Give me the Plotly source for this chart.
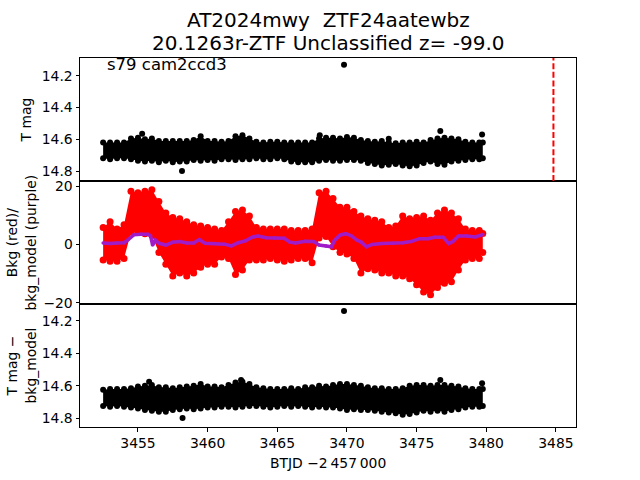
import plotly.graph_objects as go
from plotly.subplots import make_subplots

# ---- data ----
t = [3452.5, 3453.0, 3453.5, 3454.0, 3454.5, 3455.0, 3455.5, 3456.0, 3456.5, 3457.0,
     3457.5, 3458.0, 3458.5, 3459.0, 3459.5, 3460.0, 3460.5, 3461.0, 3461.5, 3462.0,
     3462.5, 3463.0, 3463.5, 3464.0, 3464.5, 3465.0, 3465.5, 3466.0, 3466.5, 3467.0,
     3467.5, 3468.0, 3468.5, 3469.0, 3469.5, 3470.0, 3470.5, 3471.0, 3471.5, 3472.0,
     3472.5, 3473.0, 3473.5, 3474.0, 3474.5, 3475.0, 3475.5, 3476.0, 3476.5, 3477.0,
     3477.5, 3478.0, 3478.5, 3479.0, 3479.5, 3479.75]

# T mag: brightest / faintest points of the dense cloud
tmag_hi = [14.62, 14.62, 14.62, 14.62, 14.595, 14.59, 14.60, 14.595, 14.61, 14.61,
           14.61, 14.61, 14.61, 14.605, 14.58, 14.61, 14.61, 14.615, 14.61, 14.58,
           14.575, 14.595, 14.615, 14.62, 14.615, 14.615, 14.62, 14.62, 14.62, 14.62,
           14.62, 14.595, 14.59, 14.59, 14.595, 14.585, 14.59, 14.605, 14.61, 14.615,
           14.61, 14.62, 14.625, 14.62, 14.62, 14.615, 14.62, 14.605, 14.595, 14.59,
           14.595, 14.60, 14.615, 14.62, 14.62, 14.62]
tmag_lo = [14.72, 14.725, 14.72, 14.72, 14.725, 14.735, 14.74, 14.735, 14.745, 14.735,
           14.745, 14.74, 14.74, 14.73, 14.735, 14.73, 14.735, 14.725, 14.725, 14.73,
           14.725, 14.725, 14.72, 14.725, 14.725, 14.72, 14.725, 14.74, 14.745, 14.745,
           14.745, 14.735, 14.73, 14.735, 14.735, 14.73, 14.73, 14.735, 14.75, 14.755,
           14.765, 14.76, 14.755, 14.765, 14.77, 14.765, 14.75, 14.74, 14.755, 14.76,
           14.74, 14.735, 14.73, 14.725, 14.725, 14.72]
tmag_out_t = [3469.79, 3458.16, 3476.7, 3479.7, 3468.05, 3473.0, 3455.3]
tmag_out_v = [14.129, 14.80, 14.548, 14.57, 14.575, 14.597, 14.565]

# Background (red)
bkg_hi = [5.8, 7.8, 5.3, 6.8, 18.3, 17.8, 18.3, 18.8, 14.8, 10.8,
          9.3, 8.8, 7.8, 6.8, 6.3, 5.8, 5.3, 4.8, 7.8, 11.3,
          11.8, 9.8, 5.8, 5.3, 5.3, 5.3, 5.3, 4.8, 4.8, 4.8,
          5.3, 17.8, 18.3, 15.8, 12.8, 12.8, 11.3, 9.8, 8.8, 8.3,
          7.8, 5.8, 6.3, 9.8, 8.8, 9.3, 9.8, 8.3, 10.8, 11.8,
          10.8, 8.8, 5.3, 4.8, 4.8, 3.8]
bkg_lo = [-5.3, -5.8, -5.8, -4.8, 4.2, 4.2, 3.7, 3.2, -2.8, -6.8,
          -10.8, -9.8, -10.8, -9.8, -7.8, -6.8, -6.8, -4.3, -4.8, -10.3,
          -8.8, -5.3, -5.3, -5.3, -4.8, -5.3, -5.8, -5.3, -4.8, -4.8,
          -6.3, 2.2, 2.7, -0.8, -2.8, -3.3, -4.8, -9.8, -8.3, -8.8,
          -9.8, -9.8, -10.8, -10.8, -11.8, -13.8, -16.3, -17.3, -14.8, -13.3,
          -12.8, -8.8, -5.3, -4.8, -4.8, -2.8]

# Background model (purple)
model_t = [3452.5, 3453.0, 3453.5, 3454.0, 3454.3, 3454.7, 3455.2, 3455.7, 3455.9, 3456.05,
           3456.25, 3456.5, 3457.0, 3457.5, 3458.0, 3458.5, 3459.0, 3459.4, 3459.8, 3460.5,
           3461.2, 3461.7, 3462.2, 3462.7, 3463.2, 3463.6, 3464.2, 3464.8, 3465.5, 3465.9,
           3466.3, 3467.0, 3467.6, 3468.0, 3468.5, 3468.9, 3469.1, 3469.5, 3469.9, 3470.3,
           3470.7, 3471.0, 3471.4, 3471.8, 3472.5, 3473.3, 3474.0, 3474.6, 3475.2, 3475.8,
           3476.3, 3476.9, 3477.3, 3477.6, 3478.0, 3478.6, 3479.2, 3479.75]
model_v = [0.5, 0.3, 0.5, 0.6, 1.7, 3.3, 3.5, 3.5, 3.0, -0.2,
           1.5, 0.4, -0.2, 0.8, 1.0, 0.5, 0.5, 1.7, 0.4, 0.3,
           0.1, -0.5, 0.6, 1.2, 2.5, 2.9, 2.3, 2.2, 2.1, 0.8,
           0.5, 1.1, 1.0, -0.2, -0.5, -0.8, 1.4, 3.2, 3.7, 3.0,
           1.5, 0.9, -0.8, 0.0, 0.3, 0.3, 0.6, 1.0, 2.0, 2.0,
           2.5, 2.5, 0.3, 1.0, 2.9, 2.9, 2.6, 3.4]

# T mag - bkg_model
corr_hi = [14.625, 14.62, 14.62, 14.62, 14.615, 14.605, 14.60, 14.595, 14.61, 14.61,
           14.615, 14.61, 14.605, 14.60, 14.59, 14.605, 14.605, 14.61, 14.595, 14.58,
           14.575, 14.59, 14.61, 14.615, 14.62, 14.62, 14.62, 14.615, 14.62, 14.61,
           14.61, 14.60, 14.605, 14.595, 14.59, 14.59, 14.595, 14.60, 14.61, 14.615,
           14.615, 14.62, 14.62, 14.615, 14.60, 14.595, 14.595, 14.60, 14.595, 14.595,
           14.60, 14.605, 14.615, 14.62, 14.62, 14.62]
corr_lo = [14.725, 14.73, 14.725, 14.73, 14.735, 14.74, 14.75, 14.755, 14.76, 14.76,
           14.75, 14.745, 14.74, 14.745, 14.74, 14.735, 14.735, 14.73, 14.73, 14.735,
           14.73, 14.725, 14.725, 14.73, 14.735, 14.73, 14.725, 14.73, 14.725, 14.73,
           14.735, 14.73, 14.735, 14.735, 14.74, 14.75, 14.745, 14.75, 14.75, 14.755,
           14.76, 14.765, 14.77, 14.78, 14.775, 14.765, 14.755, 14.76, 14.755, 14.76,
           14.75, 14.745, 14.735, 14.73, 14.73, 14.725]
corr_out_t = [3469.79, 3458.2, 3476.7, 3479.7, 3455.8, 3462.4]
corr_out_v = [14.138, 14.80, 14.565, 14.585, 14.575, 14.565]

discovery_t = 3484.82

title1 = "AT2024mwy  ZTF24aatewbz"
title2 = "20.1263r-ZTF Unclassified z= -99.0"
label_sector = "s79 cam2ccd3"
ylab1 = "T mag"
ylab2 = "Bkg (red)/<br>bkg_model (purple)"
ylab3 = "T mag \u2212<br>bkg_model"
xlab = "BTJD \u22122\u2009457\u2009000"

x_ticks = [3455, 3460, 3465, 3470, 3475, 3480, 3485]
mag_ticks = [14.2, 14.4, 14.6, 14.8]
bkg_ticks = [-20, 0, 20]

# ---- figure ----
FONT = "DejaVu Sans"
PURPLE = "#a01cc8"
fig = make_subplots(rows=3, cols=1, shared_xaxes=True, vertical_spacing=0)


def cloud(row, lo, hi, color, msize):
    fig.add_trace(go.Scatter(x=t + t[::-1], y=hi + lo[::-1], fill="toself",
                             fillcolor=color, mode="lines",
                             line=dict(width=0, color=color),
                             showlegend=False, hoverinfo="skip"), row=row, col=1)
    fig.add_trace(go.Scatter(x=t + t, y=hi + lo, mode="markers",
                             marker=dict(size=msize, color=color, line=dict(width=0)),
                             showlegend=False), row=row, col=1)


cloud(1, tmag_lo, tmag_hi, "black", 6)
fig.add_trace(go.Scatter(x=tmag_out_t, y=tmag_out_v, mode="markers",
                         marker=dict(size=6, color="black"), showlegend=False), row=1, col=1)

cloud(2, bkg_lo, bkg_hi, "#ff0000", 7)
fig.add_trace(go.Scatter(x=model_t, y=model_v, mode="lines+markers",
                         line=dict(color=PURPLE, width=3.5),
                         marker=dict(size=3.5, color=PURPLE),
                         showlegend=False), row=2, col=1)

cloud(3, corr_lo, corr_hi, "black", 6)
fig.add_trace(go.Scatter(x=corr_out_t, y=corr_out_v, mode="markers",
                         marker=dict(size=6, color="black"), showlegend=False), row=3, col=1)

fig.add_shape(type="line", xref="x", yref="y domain", x0=discovery_t, x1=discovery_t,
              y0=0, y1=1, line=dict(color="#ff0000", width=2, dash="6px,2.6px"))

axis_common = dict(showline=True, mirror=True, linecolor="black", linewidth=1,
                   showgrid=False, zeroline=False, ticks="outside", ticklen=3.5,
                   tickwidth=0.8, tickcolor="black",
                   tickfont=dict(family=FONT, size=13.9, color="black"))

for r in (1, 2, 3):
    fig.update_xaxes(axis_common, row=r, col=1, range=[3450.84, 3486.44],
                     tickvals=x_ticks)
fig.update_xaxes(showticklabels=False, ticks="", row=1, col=1)
fig.update_xaxes(showticklabels=False, ticks="", row=2, col=1)

fig.update_yaxes(axis_common, row=1, col=1, range=[14.863, 14.087], tickvals=mag_ticks,
                 tickformat=".1f")
fig.update_yaxes(axis_common, row=2, col=1, range=[-20.45, 21.8], tickvals=bkg_ticks,
                 ticktext=["\u221220", "0", "20"])
fig.update_yaxes(axis_common, row=3, col=1, range=[14.855, 14.095], tickvals=mag_ticks,
                 tickformat=".1f")

ann = []
ann.append(dict(text=title1, x=0.5, y=1.102, xref="paper", yref="paper",
                showarrow=False, xanchor="center", yanchor="middle",
                font=dict(family=FONT, size=20, color="black")))
ann.append(dict(text=title2, x=0.5, y=1.042, xref="paper", yref="paper",
                showarrow=False, xanchor="center", yanchor="middle",
                font=dict(family=FONT, size=20, color="black")))
ann.append(dict(text=label_sector, x=0.05, y=0.983, xref="paper", yref="paper",
                showarrow=False, xanchor="left", yanchor="middle",
                font=dict(family=FONT, size=16.5, color="black")))
ann.append(dict(text=ylab1, x=-0.107, y=5 / 6, xref="paper", yref="paper",
                showarrow=False, textangle=-90, xanchor="center", yanchor="middle",
                font=dict(family=FONT, size=13.9, color="black")))
ann.append(dict(text=ylab2, x=-0.119, y=0.5, xref="paper", yref="paper",
                showarrow=False, textangle=-90, xanchor="center", yanchor="middle",
                font=dict(family=FONT, size=13.9, color="black")))
ann.append(dict(text=ylab3, x=-0.119, y=1 / 6, xref="paper", yref="paper",
                showarrow=False, textangle=-90, xanchor="center", yanchor="middle",
                font=dict(family=FONT, size=13.9, color="black")))
ann.append(dict(text=xlab, x=0.5, y=-0.097, xref="paper", yref="paper",
                showarrow=False, xanchor="center", yanchor="middle",
                font=dict(family=FONT, size=13.9, color="black")))

fig.update_layout(width=640, height=480, autosize=False,
                  margin=dict(l=80, r=64, t=57.6, b=52.8, pad=0),
                  paper_bgcolor="white", plot_bgcolor="white",
                  font=dict(family=FONT, color="black"),
                  annotations=ann, showlegend=False)

fig.write_html("out.html")
